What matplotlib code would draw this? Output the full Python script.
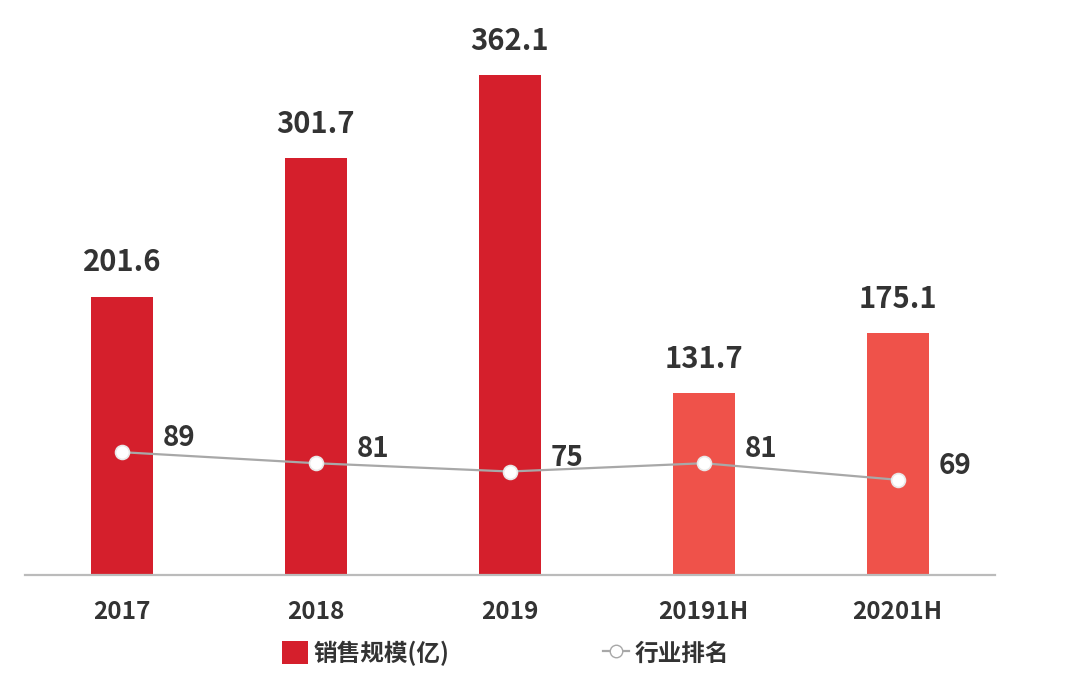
import matplotlib
matplotlib.use("Agg")
import matplotlib.pyplot as plt
from matplotlib.lines import Line2D
from matplotlib.patches import Patch

plt.rcParams['font.family'] = ['Noto Sans CJK SC', 'DejaVu Sans']

# data
periods = ['2017', '2018', '2019', '20191H', '20201H']
sales = [201.6, 301.7, 362.1, 131.7, 175.1]
ranks = [89, 81, 75, 81, 69]
is_half_year = [False, False, False, True, True]

dark_red = '#D51F2C'
light_red = '#EF524A'
text_col = '#333333'
line_col = '#A8A8A8'

fig = plt.figure(figsize=(10.8, 6.83), dpi=100)
ax = fig.add_axes([0.023, 0.158, 0.898, 0.7886])

x = list(range(len(periods)))
colors = [light_red if h else dark_red for h in is_half_year]
ax.bar(x, sales, width=0.32, color=colors, zorder=2)

# value labels over bars
for xi, v in zip(x, sales):
    ax.annotate(f'{v:.1f}', (xi, v), xytext=(0, 14), textcoords='offset points',
                ha='center', va='bottom', fontsize=21, fontweight='bold', color=text_col)

# rank line, drawn on the same scale as the bars
ax.plot(x, ranks, color=line_col, lw=1.6, marker='o', markersize=10,
        markerfacecolor='white', markeredgecolor='#E8E8E8', markeredgewidth=1.2, zorder=3)
for xi, r in zip(x, ranks):
    ax.annotate(str(r), (xi, r), xytext=(41, 10), textcoords='offset points',
                ha='center', va='center', fontsize=20, fontweight='bold', color=text_col)

ax.set_xlim(-0.5, len(periods) - 0.5)
ax.set_ylim(0, 390)
ax.set_yticks([])
ax.set_xticks(x)
ax.set_xticklabels(periods, fontsize=17.5, fontweight='bold', color=text_col)
ax.tick_params(axis='x', length=0, pad=18)
for s in ['top', 'right', 'left']:
    ax.spines[s].set_visible(False)
ax.spines['bottom'].set_color('#BBBBBB')
ax.spines['bottom'].set_linewidth(1.6)

handles = [
    Patch(facecolor=dark_red, label='销售规模(亿)'),
    Line2D([0], [0], color=line_col, lw=1.6, marker='o', markersize=9,
           markerfacecolor='white', markeredgecolor=line_col, label='行业排名'),
]
leg = fig.legend(handles=handles, loc='center', bbox_to_anchor=(0.468, 0.044), ncol=2,
                 frameon=False, handlelength=1.1, handleheight=1.1, handletextpad=0.25,
                 columnspacing=6.5, prop={'size': 17, 'weight': 'bold'})
for t in leg.get_texts():
    t.set_color(text_col)

fig.savefig('out.png', dpi=100)
